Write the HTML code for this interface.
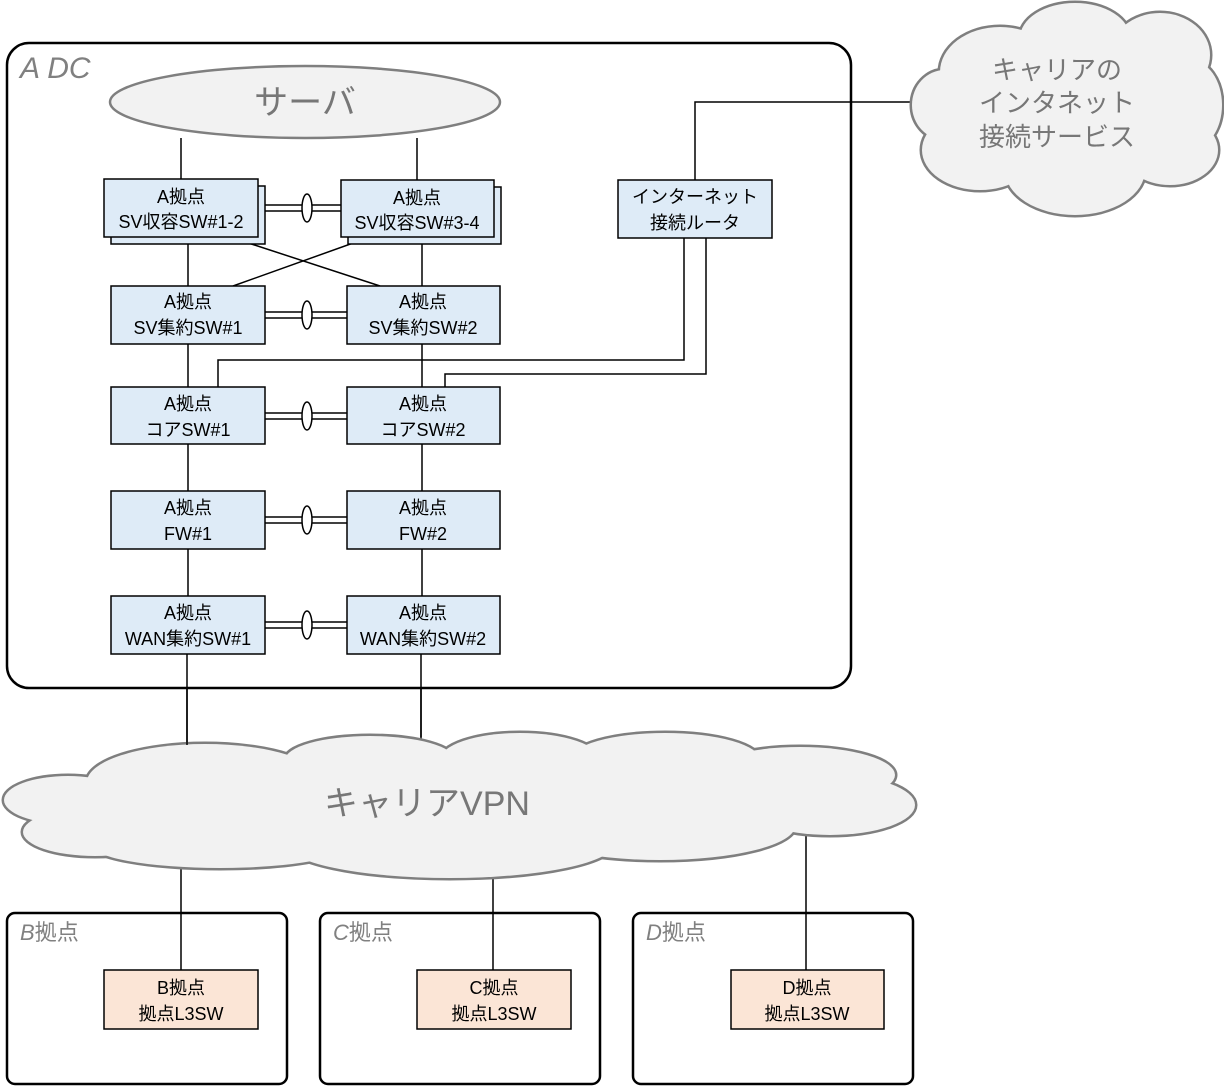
<!DOCTYPE html>
<html><head><meta charset="utf-8"><style>
html,body{margin:0;padding:0;background:#fff;}
svg{display:block;}
text{font-family:"Liberation Sans","Noto Sans CJK JP",sans-serif;}
</style></head><body>
<svg width="1224" height="1086" viewBox="0 0 1224 1086" xmlns="http://www.w3.org/2000/svg">
<rect x="7" y="43" width="844" height="645" rx="22" fill="#fff" stroke="#000" stroke-width="2.5"/>
<text x="20" y="78" font-size="30" font-style="italic" fill="#808080">A DC</text>

<ellipse cx="305" cy="102" rx="195" ry="36" fill="#f2f2f2" stroke="#7f7f7f" stroke-width="2.5"/>
<text x="305" y="114" font-size="34" fill="#777" text-anchor="middle">サーバ</text>

<g stroke="#000" stroke-width="1.5" fill="none">
<line x1="181" y1="138" x2="181" y2="179"/>
<line x1="417" y1="138" x2="417" y2="180"/>
<line x1="188" y1="244" x2="188" y2="286"/>
<line x1="422" y1="244" x2="422" y2="286"/>
<line x1="230" y1="237" x2="380" y2="286"/>
<line x1="370" y1="237" x2="233" y2="286"/>
<line x1="188" y1="344" x2="188" y2="387"/>
<line x1="422" y1="344" x2="422" y2="387"/>
<line x1="188" y1="444" x2="188" y2="491"/>
<line x1="422" y1="444" x2="422" y2="491"/>
<line x1="188" y1="549" x2="188" y2="596"/>
<line x1="422" y1="549" x2="422" y2="596"/>
<line x1="187" y1="654" x2="187" y2="750"/>
<line x1="421" y1="654" x2="421" y2="745"/>
<polyline points="695,180 695,102 915,102"/>
<polyline points="684,238 684,360 218,360 218,387"/>
<polyline points="706,238 706,374 445,374 445,387"/>
<line x1="181" y1="860" x2="181" y2="970"/>
<line x1="493" y1="860" x2="493" y2="970"/>
<line x1="806" y1="830" x2="806" y2="970"/>
<line x1="258" y1="205" x2="341" y2="205"/><line x1="258" y1="211" x2="341" y2="211"/>
<line x1="265" y1="312" x2="347" y2="312"/><line x1="265" y1="318" x2="347" y2="318"/>
<line x1="265" y1="413" x2="347" y2="413"/><line x1="265" y1="419" x2="347" y2="419"/>
<line x1="265" y1="517" x2="347" y2="517"/><line x1="265" y1="523" x2="347" y2="523"/>
<line x1="265" y1="622" x2="347" y2="622"/><line x1="265" y1="628" x2="347" y2="628"/>
</g>
<g stroke="#000" stroke-width="1.5" fill="#fff">
<ellipse cx="307" cy="208" rx="5" ry="14"/>
<ellipse cx="307" cy="315" rx="5" ry="14"/>
<ellipse cx="307" cy="416" rx="5" ry="14"/>
<ellipse cx="307" cy="520" rx="5" ry="14"/>
<ellipse cx="307" cy="625" rx="5" ry="14"/>
</g>

<g stroke="#000" stroke-width="1.5" fill="#deebf7">
<rect x="111" y="186" width="154" height="58"/>
<rect x="104" y="179" width="154" height="58"/>
<rect x="348" y="187" width="153" height="57"/>
<rect x="341" y="180" width="153" height="57"/>
<rect x="111" y="286" width="154" height="58"/>
<rect x="347" y="286" width="153" height="58"/>
<rect x="111" y="387" width="154" height="57"/>
<rect x="347" y="387" width="153" height="57"/>
<rect x="111" y="491" width="154" height="58"/>
<rect x="347" y="491" width="153" height="58"/>
<rect x="111" y="596" width="154" height="58"/>
<rect x="347" y="596" width="153" height="58"/>
<rect x="618" y="180" width="154" height="58"/>
</g>
<g font-size="18" text-anchor="middle" fill="#000">
<text x="181" y="203">A拠点</text><text x="181" y="228">SV収容SW#1-2</text>
<text x="417" y="204">A拠点</text><text x="417" y="229">SV収容SW#3-4</text>
<text x="188" y="308">A拠点</text><text x="188" y="334">SV集約SW#1</text>
<text x="423" y="308">A拠点</text><text x="423" y="334">SV集約SW#2</text>
<text x="188" y="410">A拠点</text><text x="188" y="436">コアSW#1</text>
<text x="423" y="410">A拠点</text><text x="423" y="436">コアSW#2</text>
<text x="188" y="514">A拠点</text><text x="188" y="540">FW#1</text>
<text x="423" y="514">A拠点</text><text x="423" y="540">FW#2</text>
<text x="188" y="619">A拠点</text><text x="188" y="645">WAN集約SW#1</text>
<text x="423" y="619">A拠点</text><text x="423" y="645">WAN集約SW#2</text>
<text x="695" y="203">インターネット</text><text x="695" y="229">接続ルータ</text>
</g>

<g stroke="#7f7f7f" stroke-width="5" fill="#f2f2f2">
<ellipse cx="1000" cy="72" rx="60" ry="45"/>
<ellipse cx="1075" cy="38" rx="55" ry="35"/>
<ellipse cx="1160" cy="55" rx="50" ry="42"/>
<ellipse cx="1190" cy="105" rx="32" ry="45"/>
<ellipse cx="1170" cy="150" rx="48" ry="35"/>
<ellipse cx="1075" cy="170" rx="70" ry="45"/>
<ellipse cx="980" cy="150" rx="58" ry="40"/>
<ellipse cx="945" cy="105" rx="33" ry="35"/>
</g>
<g fill="#f2f2f2">
<ellipse cx="1000" cy="72" rx="60" ry="45"/>
<ellipse cx="1075" cy="38" rx="55" ry="35"/>
<ellipse cx="1160" cy="55" rx="50" ry="42"/>
<ellipse cx="1190" cy="105" rx="32" ry="45"/>
<ellipse cx="1170" cy="150" rx="48" ry="35"/>
<ellipse cx="1075" cy="170" rx="70" ry="45"/>
<ellipse cx="980" cy="150" rx="58" ry="40"/>
<ellipse cx="945" cy="105" rx="33" ry="35"/>
<ellipse cx="1065" cy="105" rx="115" ry="70"/>
</g>
<g font-size="26" fill="#777" text-anchor="middle">
<text x="1057" y="79">キャリアの</text>
<text x="1057" y="112">インタネット</text>
<text x="1057" y="146">接続サービス</text>
</g>

<g stroke="#7f7f7f" stroke-width="5" fill="#f2f2f2">
<ellipse cx="205" cy="782" rx="118" ry="38"/>
<ellipse cx="68" cy="800" rx="64" ry="24"/>
<ellipse cx="95" cy="832" rx="72" ry="24"/>
<ellipse cx="220" cy="844" rx="130" ry="24"/>
<ellipse cx="450" cy="843" rx="165" ry="35"/>
<ellipse cx="370" cy="760" rx="85" ry="24"/>
<ellipse cx="520" cy="760" rx="80" ry="27"/>
<ellipse cx="665" cy="760" rx="95" ry="27"/>
<ellipse cx="800" cy="775" rx="95" ry="28"/>
<ellipse cx="830" cy="805" rx="85" ry="30"/>
<ellipse cx="660" cy="826" rx="135" ry="34"/>
</g>
<g fill="#f2f2f2">
<ellipse cx="205" cy="782" rx="118" ry="38"/>
<ellipse cx="68" cy="800" rx="64" ry="24"/>
<ellipse cx="95" cy="832" rx="72" ry="24"/>
<ellipse cx="220" cy="844" rx="130" ry="24"/>
<ellipse cx="450" cy="843" rx="165" ry="35"/>
<ellipse cx="370" cy="760" rx="85" ry="24"/>
<ellipse cx="520" cy="760" rx="80" ry="27"/>
<ellipse cx="665" cy="760" rx="95" ry="27"/>
<ellipse cx="800" cy="775" rx="95" ry="28"/>
<ellipse cx="830" cy="805" rx="85" ry="30"/>
<ellipse cx="660" cy="826" rx="135" ry="34"/>
<ellipse cx="440" cy="800" rx="300" ry="45"/>
<ellipse cx="190" cy="815" rx="150" ry="30"/>
<ellipse cx="740" cy="800" rx="120" ry="32"/>
</g>
<text x="427" y="815" font-size="34" fill="#777" text-anchor="middle">キャリアVPN</text>

<g stroke="#000" stroke-width="2.5" fill="none">
<rect x="7" y="913" width="280" height="171" rx="8"/>
<rect x="320" y="913" width="280" height="171" rx="8"/>
<rect x="633" y="913" width="280" height="171" rx="8"/>
</g>
<g font-size="22" fill="#808080">
<text x="20" y="940"><tspan font-style="italic">B</tspan>拠点</text>
<text x="333" y="940"><tspan font-style="italic">C</tspan>拠点</text>
<text x="646" y="940"><tspan font-style="italic">D</tspan>拠点</text>
</g>
<g stroke="#000" stroke-width="1.5" fill="#fbe5d6">
<rect x="104" y="970" width="154" height="59"/>
<rect x="417" y="970" width="154" height="59"/>
<rect x="731" y="970" width="153" height="59"/>
</g>
<g font-size="18" text-anchor="middle" fill="#000">
<text x="181" y="994">B拠点</text><text x="181" y="1020">拠点L3SW</text>
<text x="494" y="994">C拠点</text><text x="494" y="1020">拠点L3SW</text>
<text x="807" y="994">D拠点</text><text x="807" y="1020">拠点L3SW</text>
</g>
<g stroke="#000" stroke-width="1.5">
<line x1="187" y1="688" x2="187" y2="745"/>
<line x1="421" y1="688" x2="421" y2="737"/>
</g>
</svg>
</body></html>
